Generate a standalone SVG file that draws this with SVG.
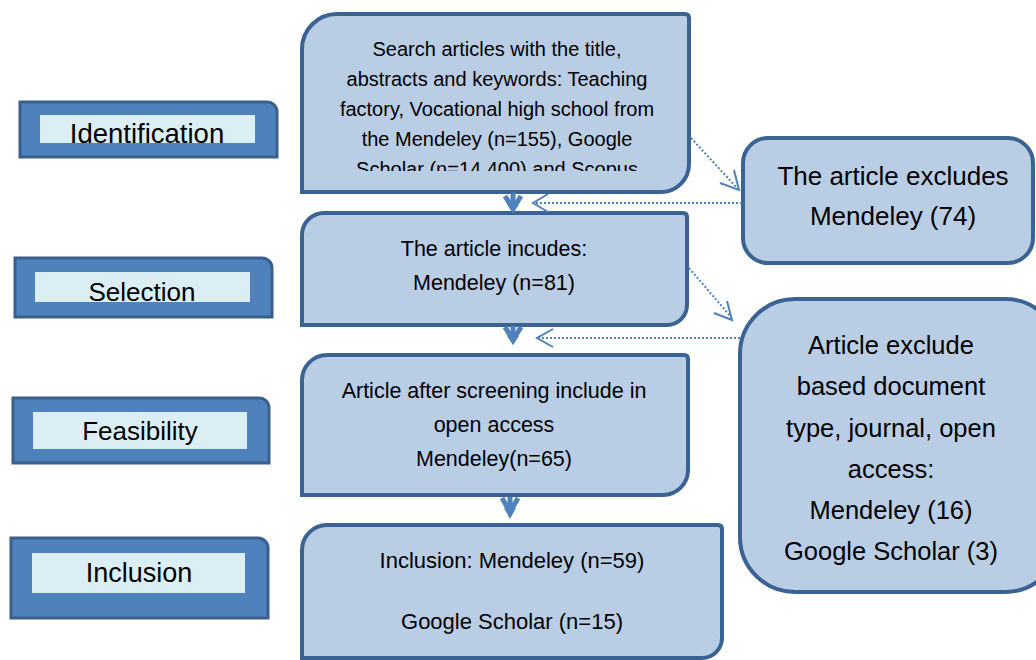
<svg xmlns="http://www.w3.org/2000/svg" width="1036" height="660" viewBox="0 0 1036 660">
<defs>
<style>
.box{fill:#B9CDE5;stroke:#3A6394;stroke-width:4}
.lblout{fill:#4F81BD;stroke:#3B5F8C;stroke-width:3}
.lblin{fill:#DBEEF4}
.t{font-family:"Liberation Sans",Arial,sans-serif;fill:#000;text-anchor:middle}
.dot{fill:none;stroke:#4F81BD;stroke-width:2;stroke-dasharray:2,2}
.head{fill:none;stroke:#4F81BD;stroke-width:2}
.thick{fill:none;stroke:#4F81BD;stroke-width:5;stroke-linejoin:miter}
</style>
<clipPath id="c1"><rect x="305" y="20" width="380" height="151"/></clipPath>
<clipPath id="cl1"><rect x="40" y="115" width="215" height="28"/></clipPath>
<clipPath id="cl2"><rect x="35" y="272" width="215" height="30"/></clipPath>
</defs>

<g id="label-identification">
<path class="lblout" d="M20,102 L267,102 A10,10 0 0 1 277,112 L277,157 L20,157 Z"/>
<rect class="lblin" x="40" y="115" width="215" height="28"/>
<text class="t" x="147" y="143" font-size="27.5" clip-path="url(#cl1)">Identification</text>
</g>
<g id="label-selection">
<path class="lblout" d="M15,258 L262,258 A10,10 0 0 1 272,268 L272,317 L15,317 Z"/>
<rect class="lblin" x="35" y="272" width="215" height="30"/>
<text class="t" x="142" y="301" font-size="26" clip-path="url(#cl2)">Selection</text>
</g>
<g id="label-feasibility">
<path class="lblout" d="M13,398 L259,398 A10,10 0 0 1 269,408 L269,463 L13,463 Z"/>
<rect class="lblin" x="33" y="412" width="214" height="37"/>
<text class="t" x="140" y="440" font-size="26">Feasibility</text>
</g>
<g id="label-inclusion">
<path class="lblout" d="M11,538 L258,538 A10,10 0 0 1 268,548 L268,618 L11,618 Z"/>
<rect class="lblin" x="32" y="553" width="213" height="40"/>
<text class="t" x="139" y="582" font-size="27">Inclusion</text>
</g>

<g id="node-search">
<path class="box" d="M302,49 A35,35 0 0 1 337,14 L685,14 Q689,14 689,18 L689,164 A28,28 0 0 1 661,192 L302,192 Z"/>
<g clip-path="url(#c1)">
<text class="t" x="497" y="56" font-size="20">Search articles with the title,</text>
<text class="t" x="497" y="86" font-size="20">abstracts and keywords: Teaching</text>
<text class="t" x="497" y="116" font-size="20">factory, Vocational high school from</text>
<text class="t" x="497" y="146" font-size="20">the Mendeley (n=155), Google</text>
<text class="t" x="497" y="176" font-size="20">Scholar (n=14.400) and Scopus</text>
</g>
</g>

<g id="node-includes">
<path class="box" d="M302,235 A22,22 0 0 1 324,213 L683,213 Q687,213 687,217 L687,305 A20,20 0 0 1 667,325 L302,325 Z"/>
<text class="t" x="494" y="256" font-size="21.5">The article incudes:</text>
<text class="t" x="494" y="290" font-size="21.5">Mendeley (n=81)</text>
</g>

<g id="node-screening">
<path class="box" d="M302,380 A25,25 0 0 1 327,355 L684,355 Q688,355 688,359 L688,470 A25,25 0 0 1 663,495 L302,495 Z"/>
<text class="t" x="494" y="398" font-size="21.5">Article after screening include in</text>
<text class="t" x="494" y="432" font-size="21.5">open access</text>
<text class="t" x="494" y="466" font-size="21.5">Mendeley(n=65)</text>
</g>

<g id="node-inclusion">
<path class="box" d="M302,550 A25,25 0 0 1 327,525 L718,525 Q722,525 722,529 L722,638 A20,20 0 0 1 702,658 L302,658 Z"/>
<text class="t" x="512" y="568" font-size="22">Inclusion: Mendeley (n=59)</text>
<text class="t" x="512" y="629" font-size="22">Google Scholar (n=15)</text>
</g>

<g id="node-excludes">
<rect class="box" x="743" y="138" width="290" height="125" rx="25" ry="25"/>
<text class="t" x="893" y="185" font-size="26">The article excludes</text>
<text class="t" x="893" y="225" font-size="26">Mendeley (74)</text>
</g>

<g id="node-exclude-type">
<rect class="box" x="740" y="299" width="320" height="293" rx="55" ry="55"/>
<text class="t" x="891" y="354" font-size="25.5">Article exclude</text>
<text class="t" x="891" y="395" font-size="25.5">based document</text>
<text class="t" x="891" y="437" font-size="25.5">type, journal, open</text>
<text class="t" x="891" y="478" font-size="25.5">access:</text>
<text class="t" x="891" y="519" font-size="25.5">Mendeley (16)</text>
<text class="t" x="891" y="560" font-size="25.5">Google Scholar (3)</text>
</g>

<g id="connectors">
<line class="thick" x1="513" y1="193" x2="513" y2="207"/>
<polyline class="thick" points="505,196 513,209 521,196"/>
<polygon points="507,204 519,204 513,213" fill="#4F81BD"/>

<line class="thick" x1="513" y1="326" x2="513" y2="339"/>
<polyline class="thick" points="505,327 513,340 521,327"/>
<polygon points="507,336 519,336 513,345" fill="#4F81BD"/>

<line class="thick" x1="510" y1="497" x2="510" y2="510"/>
<polyline class="thick" points="502,498 510,512 518,498"/>
<polygon points="504,508 516,508 510,519" fill="#4F81BD"/>

<line class="dot" x1="691" y1="138" x2="738" y2="189"/>
<polyline class="head" points="720,183 739,190 734,170"/>
<line class="dot" x1="742" y1="203" x2="534" y2="203"/>
<polyline class="head" points="548,194 533,203 548,212"/>
<line class="dot" x1="689" y1="268" x2="731" y2="317"/>
<polyline class="head" points="714,313 732,320 727,301"/>
<line class="dot" x1="740" y1="338" x2="538" y2="338"/>
<polyline class="head" points="553,329 537,338 553,347"/>
</g>
</svg>
